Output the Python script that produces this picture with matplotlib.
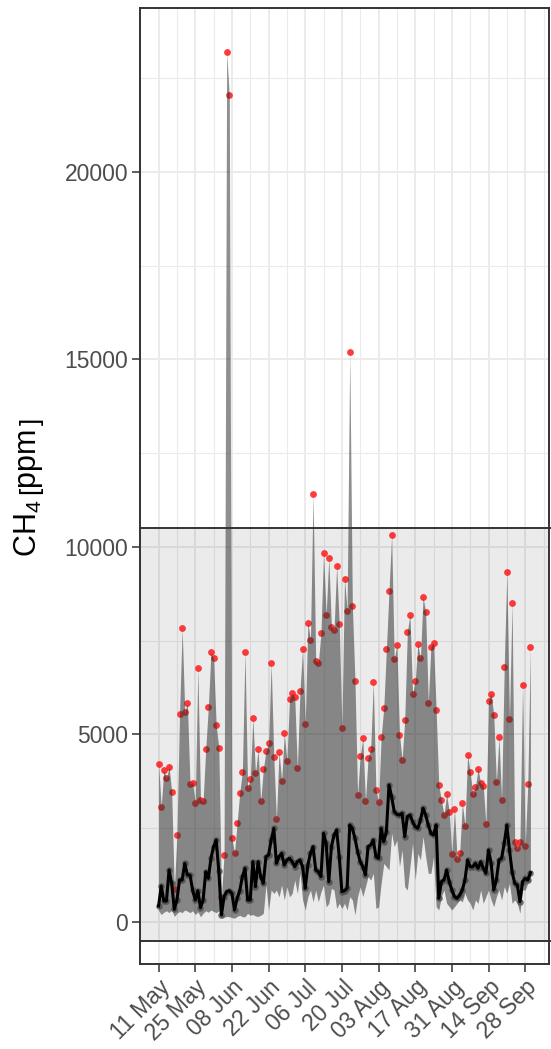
import numpy as np
import pandas as pd
import matplotlib
matplotlib.use("Agg")
import matplotlib.pyplot as plt
import matplotlib.dates as mdates
from matplotlib.patches import Rectangle
from matplotlib.transforms import blended_transform_factory
from matplotlib.ticker import FixedLocator

plt.rcParams["font.family"] = ["Liberation Sans", "DejaVu Sans"]
plt.rcParams["mathtext.fontset"] = "custom"
plt.rcParams["mathtext.rm"] = "Liberation Sans"
plt.rcParams["mathtext.it"] = "Liberation Sans:italic"

# ---------------- data ----------------
start_date = "2021-05-11"
n_days = 143
dates = pd.date_range(start_date, periods=n_days, freq="D")

ch4_median = [426, 960, 560, 560, 1386, 1031, 337, 586, 1120, 1120,
              1564, 1253, 1253, 853, 586, 835, 382, 586, 1342, 1164,
              1697, 2009, 2186, 1360, 186, 675, 809, 835, 764, 320,
              631, 835, 1209, 1431, 586, 586, 1609, 942, 1609, 1209,
              1031, 1742, 1786, 2186, 2497, 1564, 1742, 1831, 1520, 1653,
              1697, 1609, 1475, 1609, 1653, 1475, 897, 1520, 1831, 2009,
              1386, 1342, 1209, 2364, 2097, 1075, 2009, 2320, 2453, 1742,
              809, 835, 900,
              2587, 2498, 2231, 1876, 1609, 1476, 1253, 2009, 2053, 2187,
              1742, 1698, 2498, 2142, 2409, 3653, 3342, 2942, 2871, 2853,
              2898, 2276, 2809, 2853, 2676, 2542, 2498, 2720, 3031, 2853,
              2587, 2364, 2320, 2587,
              631, 1075, 1120, 1386, 1075, 853, 675, 631, 720, 853,
              1120, 1653, 1475, 1475, 1564, 1431, 1609, 1431, 1297, 1920,
              1564, 853, 1120, 1653, 1697, 2097, 2586, 1920, 1342, 1031,
              986, 542, 1075, 1164, 1120, 1315]

ch4_min = [300, 200, 260, 300, 250, 320, 150, 230, 280, 250,
           320, 290, 250, 300, 200, 270, 140, 230, 300, 260,
           320, 280, 250, 300, 100, 120, 150, 140, 120, 100,
           150, 180, 140, 140, 230, 180, 200, 160, 150, 180,
           230, 987, 320, 853, 760, 850, 670, 987, 590, 940,
           670, 760, 1120, 760, 1298, 590, 320, 670, 850, 540,
           850, 540, 800, 987, 400, 500, 900, 850, 360, 500,
           360, 500, 320,
           676, 590, 187, 676, 942, 676, 942, 1209, 1120, 1298,
           364, 400, 1031, 1564, 1476, 1387, 2364, 2009, 2187, 1476,
           1920, 942, 853, 1476, 2098, 1120, 1831, 1653, 2276, 1742,
           1298, 1298, 1742, 409,
           320, 676, 853, 500, 409, 320, 409, 498, 587, 540,
           765, 587, 498, 320, 587, 498, 853, 498, 676, 853,
           587, 409, 676, 853, 587, 942, 765, 1031, 498, 587,
           498, 231, 853, 853, 1031, 1120]

ch4_max = [4222, 3075, 4053, 3831, 4142, 3475, 870, 2320, 5546, 7831,
           5591, 5831, 3680, 3715, 3182, 6773, 3253, 3217, 4604, 5733,
           7191, 7031, 5244, 4649, 675, 1786, 23200, 22050, 2231, 1849,
           2649, 3448, 4009, 7209, 3573, 3813, 5440, 3965, 4604, 3218,
           4071, 4560, 4764, 6898, 4391, 2738, 4542, 3769, 5040, 4302,
           5947, 6098, 5991, 4098, 6169, 7289, 5289, 7973, 7529, 11422,
           6969, 6907, 7698, 9840, 8196, 9707, 7876, 7787, 9493, 7947,
           5173, 9156, 8293, 15200, 8436, 6436, 3387, 4427, 4898, 3227,
           4382, 4604, 6391, 3529, 3200, 4933, 5716, 7271, 8827, 10311,
           7004, 7387, 4995, 4329, 5378, 7742, 8187, 6080, 6427, 7404,
           7031, 8667, 8258, 5849, 7342, 7440, 5662, 3653, 3244, 2862,
           3404, 2942, 1813, 3022, 1680, 1849, 3164, 2569, 4445, 3991,
           3404, 3609, 4080, 3698, 3627, 2605, 5893, 6089, 5511, 3733,
           4924, 3262, 6809, 9325, 5404, 8507, 2142, 1964, 2142, 6329,
           2027, 3671, 7342]

tick_dates = pd.date_range("2021-05-11", "2021-09-28", freq="14D")
tick_labels = [d.strftime("%d %b") for d in tick_dates]
minor_dates = pd.date_range("2021-05-04", "2021-10-12", freq="14D")
y_ticks = [0, 5000, 10000, 15000, 20000]
y_minor = [2500, 7500, 12500, 17500, 22500]
zoom_band = [-500, 10500]
y_label = r"CH$_4\,\left[\mathrm{ppm}_{\,}^{\,}\right]$"

# ---------------- figure ----------------
W, H = 551, 1049
fig = plt.figure(figsize=(W / 100, H / 100), dpi=100)
fig.patch.set_facecolor("white")
left, right, top, bottom = 140, 549, 8, 964
ax = fig.add_axes([left / W, 1 - bottom / H, (right - left) / W, (bottom - top) / H])

xnum = mdates.date2num(dates)
pad = 0.05 * (xnum[-1] - xnum[0])
ax.set_xlim(xnum[0] - pad, xnum[-1] + pad)
ax.set_ylim(-1120, 24373)

# grid / ticks
ax.set_axisbelow(True)
ax.xaxis.set_major_locator(FixedLocator(mdates.date2num(tick_dates)))
ax.xaxis.set_minor_locator(FixedLocator(mdates.date2num(minor_dates)))
ax.set_xticks(mdates.date2num(tick_dates))
ax.set_xticklabels(tick_labels, rotation=45, ha="right", va="top",
                   rotation_mode="anchor")
ax.yaxis.set_major_locator(FixedLocator(y_ticks))
ax.yaxis.set_minor_locator(FixedLocator(y_minor))
ax.set_yticklabels([str(v) for v in y_ticks])
ax.grid(which="major", color="#EBEBEB", lw=1.4)
ax.grid(which="minor", color="#EBEBEB", lw=0.8)

ax.tick_params(which="major", length=5.5, width=1.1, color="#333333",
               labelsize=16.5, labelcolor="#4D4D4D", pad=3)
ax.tick_params(which="minor", length=0)
for s in ax.spines.values():
    s.set_color("#333333")
    s.set_linewidth(1.4)
    s.set_zorder(10)

# zoom band indicator
btr = blended_transform_factory(ax.transAxes, ax.transData)
ax.add_patch(Rectangle((0, zoom_band[0]), 1, zoom_band[1] - zoom_band[0],
                       transform=btr, facecolor="black", alpha=0.08,
                       edgecolor="none", zorder=1))
for yv in zoom_band:
    ax.plot([0, 1.1], [yv, yv], transform=btr, color="#333333", lw=1.4,
            clip_on=False, zorder=9)

# data
ax.scatter(xnum, ch4_max, s=24, color="#FF1A1A", alpha=0.85, lw=0, zorder=3)
ax.fill_between(xnum, ch4_min, ch4_max, color="#333333", alpha=0.55, lw=0,
                zorder=4)
ax.scatter(xnum, ch4_median, s=22, color="#4D4D4D", alpha=0.8, lw=0, zorder=5)
ax.plot(xnum, ch4_median, color="black", lw=2.2, zorder=6)

fig.text(30 / W, 1 - 487 / H, y_label, rotation=90, ha="center", va="center",
         fontsize=22, color="black")

fig.savefig("out.png", dpi=100, facecolor="white")
